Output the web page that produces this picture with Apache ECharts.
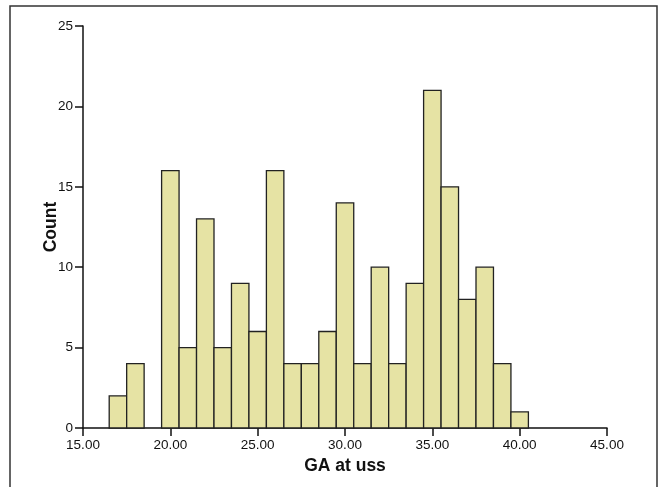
<!DOCTYPE html>
<html>
<head>
<meta charset="utf-8">
<script src="https://cdn.jsdelivr.net/npm/echarts@6/dist/echarts.min.js"></script>
<style>
html,body{margin:0;padding:0;background:#fff;}
#chart{width:659px;height:487px;}
</style>
</head>
<body>
<div id="chart"></div>
<script>
// Histogram bins (centres, bin width 1) and counts
const binCenters = [17, 18, 19, 20, 21, 22, 23, 24, 25, 26, 27, 28, 29, 30, 31, 32, 33, 34, 35, 36, 37, 38, 39, 40];
const counts     = [2, 4, 0, 16, 5, 13, 5, 9, 6, 16, 4, 4, 6, 14, 4, 10, 4, 9, 21, 15, 8, 10, 4, 1];
const binWidth = 1;
const xTicks = [15, 20, 25, 30, 35, 40, 45];
const yTicks = [0, 5, 10, 15, 20, 25];
const xTitle = 'GA at uss';
const yTitle = 'Count';

const FONT = '"Liberation Sans", Arial, sans-serif';
const chart = echarts.init(document.getElementById('chart'));
const data = binCenters.map((c, i) => [c, counts[i]]);

chart.setOption({
  animation: false,
  backgroundColor: '#ffffff',
  graphic: [{
    type: 'rect',
    shape: { x: 10, y: 6, width: 647, height: 500 },
    style: { fill: 'none', stroke: '#333', lineWidth: 1.5 },
    silent: true
  }],
  grid: { left: 83, right: 52, top: 26, bottom: 59, containLabel: false },
  xAxis: {
    type: 'value',
    min: xTicks[0], max: xTicks[xTicks.length - 1], interval: 5,
    name: xTitle, nameLocation: 'middle', nameGap: 27,
    nameTextStyle: { fontFamily: FONT, fontSize: 17.5, fontWeight: 'bold', color: '#111' },
    axisLine: { show: true, lineStyle: { color: '#111', width: 1.5 } },
    axisTick: { show: true, length: 8, lineStyle: { color: '#111', width: 1.5 } },
    axisLabel: { fontFamily: FONT, fontSize: 13.5, color: '#111', margin: 10,
      formatter: v => v.toFixed(2) },
    splitLine: { show: false }
  },
  yAxis: {
    type: 'value',
    min: yTicks[0], max: yTicks[yTicks.length - 1], interval: 5,
    name: yTitle, nameLocation: 'middle', nameGap: 23, nameRotate: 90,
    nameMoveOverlap: false,
    nameTextStyle: { fontFamily: FONT, fontSize: 17.5, fontWeight: 'bold', color: '#111' },
    axisLine: { show: true, lineStyle: { color: '#111', width: 1.5 } },
    axisTick: { show: true, length: 8, lineStyle: { color: '#111', width: 1.5 } },
    axisLabel: { fontFamily: FONT, fontSize: 13.5, color: '#111', margin: 10 },
    splitLine: { show: false }
  },
  series: [{
    type: 'custom',
    data: data,
    renderItem: function (params, api) {
      const c = api.value(0), n = api.value(1);
      if (!n) return null;
      const p0 = api.coord([c - binWidth / 2, n]);
      const p1 = api.coord([c + binWidth / 2, 0]);
      return {
        type: 'rect',
        shape: { x: p0[0], y: p0[1], width: p1[0] - p0[0], height: p1[1] - p0[1] },
        style: { fill: '#e6e3a4', stroke: '#222', lineWidth: 1.3 }
      };
    }
  }]
});
</script>
</body>
</html>
